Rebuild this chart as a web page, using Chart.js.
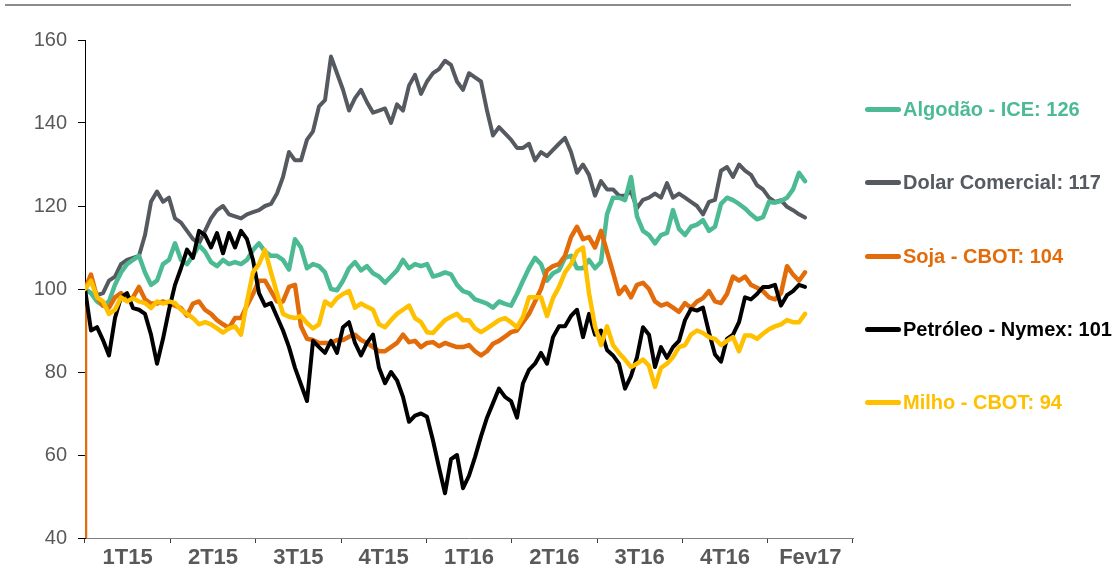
<!doctype html>
<html lang="pt-BR">
  <head>
    <meta charset="utf-8">
    <title>Commodities - base 100</title>

    <!-- Chart.js -->
    <script src="https://cdn.jsdelivr.net/npm/chart.js@4.4.1/dist/chart.umd.min.js"></script>

    <style>
      body { margin: 0; background: #fff; font-family: "Liberation Sans", Arial, sans-serif; }
      #wrap { position: relative; width: 1117px; height: 588px; }
      #topo { position: absolute; left: 5px; top: 4px; width: 1066px; height: 2px; background: #8c8c8c; }
      .leg { position: absolute; left: 865px; height: 24px; display: flex; align-items: center;
             font-weight: bold; font-size: 20px; white-space: nowrap; }
      .leg span.linha { display: inline-block; width: 36px; height: 5px; border-radius: 3px; margin-right: 2px; }
    </style>
  </head>
  <body>
    <div id="wrap">
      <div id="topo"></div>
      <canvas id="myChart" width="1117" height="588"></canvas>
      <div id="legenda"></div>
    </div>

    <script>
    // trimestres do eixo x
    const trimestres = ['1T15', '2T15', '3T15', '4T15', '1T16', '2T16', '3T16', '4T16', 'Fev17'];

    // séries em base 100 (jan/15 = 100), uma leitura a cada ~4 pregões
    const algodao = [100, 99, 97, 96, 97, 101, 104, 106, 107, 108, 104, 101, 102, 106, 107, 111, 107, 106, 108, 110.5,
      109, 106.5, 105.5, 107, 106, 106.5, 106, 107, 109.4, 111, 109, 108, 108, 107, 104.7, 112, 110, 105, 106, 105.5,
      104, 100, 99.7, 102, 105, 106.5, 104.5, 105.5, 103.8, 103, 101.5, 103, 104.5, 107, 105, 106, 105.5, 106, 103, 103.4,
      104, 103.5, 101, 99.5, 99, 97.5, 97, 96.5, 95.5, 97, 96.4, 96, 98.8, 102, 105, 107.5, 106, 102, 103.8, 104.5,
      107.5, 108, 105, 105, 107, 105, 106.5, 118, 122, 122, 121.4, 127, 117.5, 114, 113, 111, 113, 113.5, 119, 114.5,
      113, 115, 115.5, 116.6, 114, 115, 120.5, 122, 121.4, 120.5, 119.4, 118, 116.8, 117.3, 121, 120.8, 121.2, 122, 124, 128,
      126];

    const dolar = [100, 99, 98.5, 99, 102, 103, 106, 107, 107.5, 108, 113, 121, 123.5, 121, 122, 117, 116, 114, 112, 111,
      114, 117, 119, 120, 118, 117.5, 117, 118, 118.5, 119, 120, 120.5, 123, 127, 133, 131, 131, 136, 138, 144,
      145.5, 156, 152, 148, 143, 146, 148, 145, 142.5, 143, 143.5, 140, 144.5, 143, 149, 151.6, 147, 150, 152, 153,
      155, 154, 150, 148, 152, 151, 150, 143, 137, 139, 137.5, 136, 134, 134, 135, 131, 133, 132, 133.5, 135,
      136.4, 133, 128, 130, 127.5, 122.5, 126, 124, 124, 122.5, 122.5, 123.5, 119.5, 121.5, 122, 123, 122, 125.5, 122, 123,
      122, 121, 120, 118, 121, 121.5, 128.5, 129.4, 127, 130, 128.5, 127.5, 125, 124, 122, 121, 121.4, 119.8, 119, 118,
      117.2];

    const sojaInicio = 0;
    const soja = [100, 103.5, 98, 96, 95.5, 98, 99, 97.5, 98, 100.5, 97.5, 96.5, 96.5, 97, 96.5, 96, 95.4, 93.6, 96.5, 97,
      95, 94, 92.5, 91.5, 90.6, 93, 93, 96, 98.8, 102, 102, 99.5, 97, 97, 100.5, 101, 91, 88, 87.7, 87,
      87, 87, 87.7, 87.7, 88.5, 89, 87.7, 87, 86, 85, 85, 86, 87, 89, 87.2, 87.5, 86, 87, 87.2, 86.2,
      87, 86.5, 86, 86, 86.5, 85, 84, 85, 86.8, 87.5, 88.5, 89.6, 90, 92, 94, 97, 100, 104.5, 105.5, 106,
      108, 112.5, 115, 112, 112.5, 110, 114, 109, 104, 98.8, 100.5, 98, 101, 101.5, 100, 97, 96, 96.5, 95.5, 94.5,
      96.6, 95.4, 97, 97.8, 99.5, 97, 96.6, 98.8, 103, 102, 103, 101, 100.3, 99.5, 98, 97.5, 99, 105.5, 103.5, 102,
      104];

    const petroleo = [100, 90, 90.8, 87.7, 84, 93, 98, 99, 95.4, 95, 94, 89, 82, 88, 95, 101, 105, 109.5, 107.5, 114,
      113, 110, 113.5, 108.6, 113.5, 110, 114, 112, 107, 99, 96, 96.6, 93.3, 90, 86, 81, 77, 73, 87.5, 86,
      84.6, 87.5, 84.6, 90.8, 92, 87, 84, 87, 89, 81, 77.3, 80, 78, 74, 68, 69.5, 70, 69.2, 63.5, 57,
      50.8, 59, 60, 52, 55, 59.5, 64.5, 69, 72.5, 76, 74, 73, 69, 77.3, 80.5, 82, 84.6, 82, 88.4, 91,
      91, 93.5, 95, 88.4, 94, 89, 90, 85.3, 84, 82, 76, 79, 83.6, 90.8, 89, 81.2, 86, 83.4, 86, 87.5,
      92.5, 95.2, 94.8, 95.5, 89.5, 84.2, 82.5, 88, 89, 92, 98, 97.5, 98.8, 100.5, 100.5, 101, 96, 98.5, 99.5, 101,
      100.5];

    const milho = [100, 102, 98, 97, 94, 95, 98, 97, 97.8, 97, 96.6, 95.4, 97, 96.5, 97, 96.6, 95, 94, 93, 91.5,
      92, 91.5, 90.5, 89.5, 90.5, 91, 89, 97, 104, 106, 109.4, 104, 99, 94, 93.3, 93, 93.5, 91.8, 90.5, 91.5,
      97, 96, 97.8, 98.8, 99.5, 95.5, 96.5, 95.7, 95, 91.5, 90.8, 92.5, 94, 95, 96, 93, 92, 89.6, 89.4, 91,
      92.5, 93.3, 94, 92.5, 92.5, 90.5, 89.6, 90.5, 91.5, 92.5, 93, 92, 90.8, 93.3, 98, 98, 98, 93.5, 97.8, 100.5,
      104, 106, 109, 110, 99, 91, 86.5, 91, 86.5, 84.6, 83, 81.2, 82, 83, 81.5, 76.4, 81, 82, 83.6, 86,
      86.5, 89, 90, 89.4, 88.4, 88, 86.5, 87.5, 88.4, 85, 88.8, 88.8, 88, 89.2, 90.3, 91, 91.5, 92.5, 92, 92,
      94];

    // último ponto do eixo (o mês de fevereiro fica pela metade)
    const xFim = 128;

    const cores = {
      algodao: '#4cbb94',
      dolar: '#555960',
      soja: '#e36c0a',
      petroleo: '#000000',
      milho: '#ffc000'
    };

    const pontos = arr => arr.map((v, i) => ({ x: i, y: v }));

    const series = [
      { nome: 'Algodão - ICE', dados: algodao, cor: cores.algodao, top: 97 },
      { nome: 'Dolar Comercial', dados: dolar, cor: cores.dolar, top: 170 },
      { nome: 'Soja - CBOT', dados: soja, cor: cores.soja, top: 244 },
      { nome: 'Petróleo - Nymex', dados: petroleo, cor: cores.petroleo, top: 317 },
      { nome: 'Milho - CBOT', dados: milho, cor: cores.milho, top: 390 }
    ];

    // legenda à direita com o último valor de cada série
    const legenda = document.getElementById('legenda');
    series.forEach(s => {
      const ultimo = Math.round(s.dados[s.dados.length - 1]);
      const d = document.createElement('div');
      d.className = 'leg';
      d.style.top = s.top + 'px';
      d.style.color = s.cor;
      d.innerHTML = '<span class="linha" style="background:' + s.cor + '"></span>' + s.nome + ': ' + ultimo;
      legenda.appendChild(d);
    });

    const linha = (label, data, cor, ordem, largura) => ({
      label: label,
      data: data,
      borderColor: cor,
      backgroundColor: cor,
      borderWidth: largura || 4.5,
      borderJoinStyle: 'round',
      borderCapStyle: 'round',
      pointRadius: 0,
      tension: 0,
      clip: 0,
      order: ordem
    });

    const ctx = document.getElementById('myChart');

    new Chart(ctx, {
      type: 'line',
      data: {
        datasets: [
          linha('Milho - CBOT', pontos(milho), cores.milho, 1),
          linha('Petróleo - Nymex', pontos(petroleo), cores.petroleo, 2, 4),
          linha('Soja - CBOT', [{ x: 0, y: sojaInicio }].concat(pontos(soja)), cores.soja, 3),
          linha('Algodão - ICE', pontos(algodao), cores.algodao, 4),
          linha('Dolar Comercial', pontos(dolar), cores.dolar, 5, 4)
        ]
      },
      options: {
        responsive: false,
        animation: false,
        events: [],
        layout: { padding: { top: 40, right: 264, bottom: 0, left: 0 } },
        plugins: {
          legend: { display: false },
          tooltip: { enabled: false }
        },
        scales: {
          x: {
            type: 'linear',
            display: false,
            min: 0,
            max: xFim
          },
          trim: {
            type: 'category',
            labels: trimestres,
            position: 'bottom',
            offset: true,
            afterFit: s => { s.height = 50; },
            border: { display: true, color: '#7f7f7f', width: 1 },
            grid: {
              offset: true,
              drawOnChartArea: false,
              drawTicks: true,
              tickLength: 5,
              tickColor: '#404040'
            },
            ticks: {
              color: '#595959',
              padding: 2,
              maxRotation: 0,
              autoSkip: false,
              font: { family: 'Liberation Sans, Arial, sans-serif', size: 22, weight: 'bold' }
            }
          },
          y: {
            min: 40,
            max: 160,
            afterFit: s => { s.width = 85; },
            border: { display: true, color: '#000000', width: 1 },
            grid: {
              drawOnChartArea: false,
              drawTicks: true,
              tickLength: 7,
              tickColor: '#000000'
            },
            ticks: {
              stepSize: 20,
              color: '#595959',
              padding: 11,
              font: { family: 'Liberation Sans, Arial, sans-serif', size: 20 }
            }
          }
        }
      }
    });
    </script>
  </body>
</html>
